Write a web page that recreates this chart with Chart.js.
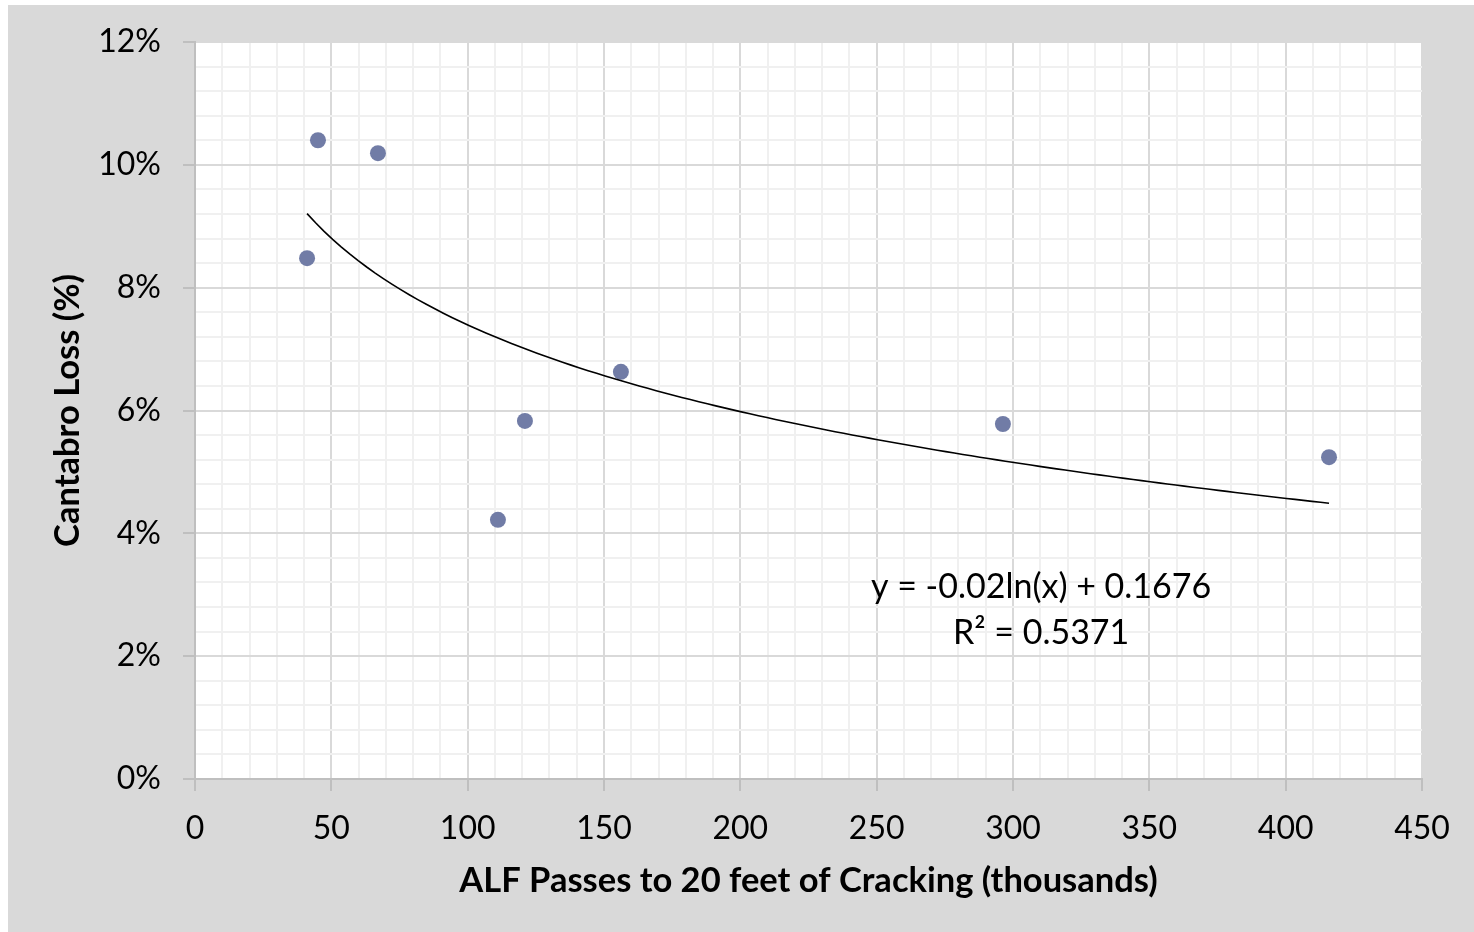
<!DOCTYPE html>
<html>
<head>
<meta charset="utf-8">
<script src="https://cdn.jsdelivr.net/npm/chart.js@4.4.1/dist/chart.umd.min.js"></script>
<style>
  html, body { margin: 0; padding: 0; background: #ffffff; }
  #wrap { position: absolute; left: 0; top: 0; width: 1474px; height: 932px; }
</style>
</head>
<body>
<div id="wrap"><canvas id="c" width="1474" height="932"></canvas></div>
<script>
// ---- Data ----
const alfPasses = [45.1, 67.1, 41.1, 121.0, 111.1, 156.2, 296.3, 415.9];   // thousands
const cantabroLoss = [10.40, 10.19, 8.48, 5.83, 4.22, 6.63, 5.78, 5.24];     // %
const xTickLabels = [0, 50, 100, 150, 200, 250, 300, 350, 400, 450];
const yTickLabels = ["0%", "2%", "4%", "6%", "8%", "10%", "12%"];
const equationLines = ["y = -0.02ln(x) + 0.1676", "R² = 0.5371"];

// ---- Logarithmic least-squares trendline from the data ----
const lnX = alfPasses.map(v => Math.log(v));
const n = lnX.length;
const mx = lnX.reduce((a, b) => a + b, 0) / n;
const my = cantabroLoss.reduce((a, b) => a + b, 0) / n;
let sxy = 0, sxx = 0;
for (let i = 0; i < n; i++) { sxy += (lnX[i] - mx) * (cantabroLoss[i] - my); sxx += (lnX[i] - mx) ** 2; }
const slope = sxy / sxx, intercept = my - slope * mx;
const xmin = Math.min(...alfPasses), xmax = Math.max(...alfPasses);
const trend = [];
for (let i = 0; i <= 120; i++) {
  const x = xmin + (xmax - xmin) * i / 120;
  trend.push({ x: x, y: slope * Math.log(x) + intercept });
}

const FONT = "Lato, 'Open Sans', sans-serif";
const isMajor = (v, step) => Math.abs(v / step - Math.round(v / step)) < 1e-6;

const bgPlugin = {
  id: 'bg',
  beforeDraw(chart) {
    const ctx = chart.ctx, a = chart.chartArea;
    ctx.save();
    ctx.fillStyle = '#d9d9d9';
    ctx.fillRect(8, 5, chart.width - 8, chart.height - 5);
    ctx.fillStyle = '#ffffff';
    ctx.fillRect(a.left, a.top, a.right - a.left, a.bottom - a.top);
    ctx.restore();
  }
};

const eqPlugin = {
  id: 'eq',
  afterDatasetsDraw(chart) {
    const ctx = chart.ctx;
    const xs = chart.scales.x, ys = chart.scales.y;
    const cx = xs.getPixelForValue(310.3);
    const cy = ys.getPixelForValue(3.13);
    ctx.save();
    ctx.fillStyle = '#000000';
    ctx.font = "34px " + FONT;
    ctx.textAlign = 'center';
    ctx.textBaseline = 'middle';
    ctx.fillText(equationLines[0], cx, cy);
    ctx.fillText(equationLines[1], cx, cy + 46);
    ctx.restore();
  }
};

new Chart(document.getElementById('c'), {
  type: 'scatter',
  data: {
    datasets: [
      {
        label: 'Cantabro',
        data: alfPasses.map((x, i) => ({ x: x, y: cantabroLoss[i] })),
        backgroundColor: '#717ca6',
        borderWidth: 0,
        pointRadius: 8,
        pointHoverRadius: 8,
        order: 2
      },
      {
        label: 'Log trend',
        type: 'line',
        data: trend,
        borderColor: '#000000',
        borderWidth: 1.6,
        pointRadius: 0,
        fill: false,
        tension: 0,
        order: 1
      }
    ]
  },
  options: {
    responsive: false,
    animation: false,
    events: [],
    layout: { padding: { left: 0, top: 42, right: 52, bottom: 0 } },
    plugins: { legend: { display: false }, tooltip: { enabled: false } },
    scales: {
      x: {
        type: 'linear',
        min: xTickLabels[0],
        max: xTickLabels[xTickLabels.length - 1],
        afterFit(s) { s.height = 932 - 779; },
        ticks: {
          stepSize: 10,
          autoSkip: false,
          maxRotation: 0,
          padding: 18,
          color: '#000000',
          font: { family: FONT, size: 32 },
          callback: (v) => xTickLabels.includes(v) ? String(v) : ''
        },
        grid: {
          color: (c) => isMajor(c.tick.value, 50) ? '#d9d9d9' : '#f0f0f0',
          tickColor: (c) => isMajor(c.tick.value, 50) ? '#bfbfbf' : 'rgba(0,0,0,0)',
          tickLength: 12,
          lineWidth: 2
        },
        border: { color: '#bfbfbf', width: 2 },
        title: {
          display: true,
          text: 'ALF Passes to 20 feet of Cracking (thousands)',
          color: '#000000',
          font: { family: FONT, size: 34.5, weight: 'bold' },
          padding: { top: 0, bottom: 30 }
        }
      },
      y: {
        type: 'linear',
        min: 0,
        max: 12,
        afterFit(s) { s.width = 195; },
        ticks: {
          stepSize: 0.4,
          autoSkip: false,
          padding: 22,
          color: '#000000',
          font: { family: FONT, size: 32 },
          callback: (v) => isMajor(v, 2) ? yTickLabels[Math.round(v / 2)] : ''
        },
        grid: {
          color: (c) => isMajor(c.tick.value, 2) ? '#d9d9d9' : '#f0f0f0',
          tickColor: (c) => isMajor(c.tick.value, 2) ? '#bfbfbf' : 'rgba(0,0,0,0)',
          tickLength: 12,
          lineWidth: 2
        },
        border: { color: '#bfbfbf', width: 2 },
        title: {
          display: true,
          text: 'Cantabro Loss (%)',
          color: '#000000',
          font: { family: FONT, size: 34.5, weight: 'bold' },
          padding: { top: 47, bottom: 0 }
        }
      }
    }
  },
  plugins: [bgPlugin, eqPlugin]
});
</script>
</body>
</html>
